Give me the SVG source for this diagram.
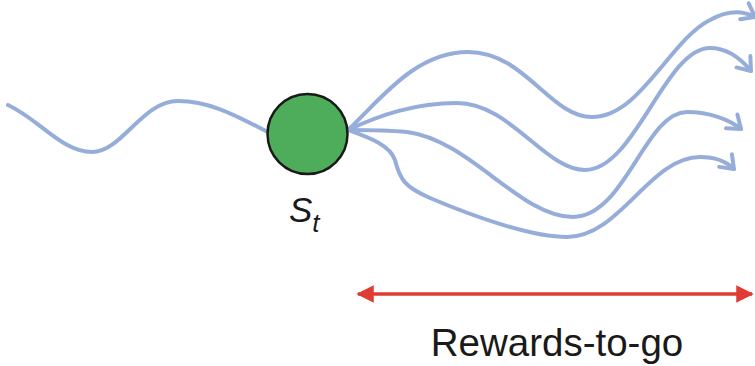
<svg xmlns="http://www.w3.org/2000/svg" width="755" height="366" viewBox="0 0 755 366">
<style>
.traj{fill:none;stroke:#97ADD9;stroke-width:4;stroke-linecap:round;stroke-linejoin:round}
.lbl{font-family:"Liberation Sans",Arial,sans-serif;fill:#1a1a1a}
</style>
<defs>
<marker id="open" viewBox="0 0 20 24" refX="16" refY="12" markerWidth="20" markerHeight="24" markerUnits="userSpaceOnUse" orient="auto">
<path d="M4,3 L16,12 L4,21" fill="none" stroke="#97ADD9" stroke-width="4" stroke-linecap="round" stroke-linejoin="round"/>
</marker>
<marker id="red" viewBox="0 0 10 10" refX="9" refY="5" markerWidth="5" markerHeight="5" orient="auto-start-reverse">
<path d="M0,0 L10,5 L0,10 Z" fill="#E03C33"/>
</marker>
</defs>
<rect width="755" height="366" fill="#fff"/>
<g id="connectors">
<path class="traj" d="M8,105 C40,120 62,152 92,152 C122,152 142,101 178,101 C212,101 240,118 268,132"/>
<path class="traj" marker-end="url(#open)" d="M348,130 C380,100 415,52 468,52 C525,52 550,117 592,117 C640,117 670,40 710,20 C728,10 742,10 755,17"/>
<path class="traj" marker-end="url(#open)" d="M348,130 C380,115 415,103 457,103 C510,103 545,170 585,170 C635,170 665,48 710,48 C728,48 742,60 751,71"/>
<path class="traj" marker-end="url(#open)" d="M348,130 C365,130 385,130 407,132 C470,140 520,217 573,217 C625,217 645,112 687,112 C710,112 730,120 741,129"/>
<path class="traj" marker-end="url(#open)" d="M348,130 C370,138 390,145 395,160 C400,180 405,187 430,198 C470,215 530,237 567,237 C620,237 650,157 700,157 C715,157 727,162 734,169"/>
<line x1="358" y1="294" x2="752" y2="294" stroke="#E03C33" stroke-width="3.5" marker-start="url(#red)" marker-end="url(#red)"/>
</g>
<g id="node-st">
<circle cx="307.5" cy="134" r="40" fill="#4DAD5A" stroke="#1a1a1a" stroke-width="2.5"/>
<text class="lbl" x="289" y="222" font-size="35" font-style="italic">S<tspan font-size="26" dy="10">t</tspan></text>
</g>
<g id="label-rewards">
<text class="lbl" x="557" y="356" font-size="38.5" text-anchor="middle">Rewards-to-go</text>
</g>
</svg>
